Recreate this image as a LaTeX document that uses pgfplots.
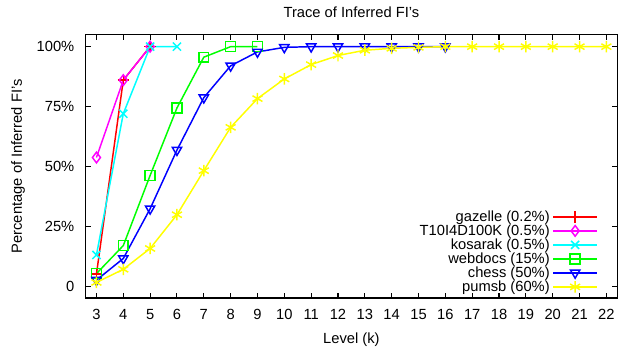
\documentclass[border=0pt]{standalone}
\usepackage{pgfplots}
\pgfplotsset{compat=1.18}
\usepackage{fontspec}
\setmainfont{Liberation Sans}
\definecolor{gpred}{RGB}{255,0,0}
\definecolor{gpmag}{RGB}{255,0,255}
\definecolor{gpcyan}{RGB}{0,255,255}
\definecolor{gpgreen}{RGB}{0,255,0}
\definecolor{gpblue}{RGB}{0,0,255}
\definecolor{gpyellow}{RGB}{255,255,0}
\begin{document}
\begin{tikzpicture}
\begin{axis}[
  scale only axis,
  width=397.5pt, height=197pt,
  xmin=2.6, xmax=22.4, ymin=-5, ymax=105,
  xtick={3,...,22},
  ytick={0,25,50,75,100},
  yticklabels={0,25\%,50\%,75\%,100\%},
  tick align=inside,
  major tick length=4pt,
  axis line style={line width=0.9pt},
  tick style={line width=0.8pt, black},
  /pgf/number format/assume math mode=true,
  tick label style={font=\fontsize{11}{13}\selectfont},
  xticklabel style={yshift=-5pt},
  yticklabel style={xshift=-5pt},
  label style={font=\fontsize{11}{13}\selectfont},
  ylabel style={yshift=2pt},
  xlabel style={yshift=-3pt},
  title style={font=\fontsize{11}{13}\selectfont, yshift=3pt},
  title={Trace of Inferred FI's},
  xlabel={Level (k)},
  ylabel={Percentage of Inferred FI's},
  legend plot pos=right,
  legend cell align=right,
  legend image code/.code={\draw[mark repeat=2,mark phase=2] plot coordinates {(0.12cm,0cm) (0.7cm,0cm) (1.28cm,0cm)};},
  legend style={draw=none, fill=none, at={(0.972,-0.003)}, anchor=south east,
    font=\fontsize{11}{13}\selectfont, row sep=-3pt},
  every axis plot/.append style={line width=1.1pt},
  mark options={solid},
]
\addplot[gpred, mark=+, mark size=4.3pt] coordinates {(3,5) (4,86) (5,100)};
\addlegendentry{gazelle (0.2\%)}
\addplot[gpmag, mark=diamond, mark size=4pt] coordinates {(3,53.7) (4,86) (5,100)};
\addlegendentry{T10I4D100K (0.5\%)}
\addplot[gpcyan, mark=x, mark size=4.3pt] coordinates {(3,13) (4,72) (5,100) (6,100)};
\addlegendentry{kosarak (0.5\%)}
\addplot[gpgreen, mark=square, mark size=3.7pt] coordinates {(3,5.2) (4,16.9) (5,46.2) (6,74.4) (7,95.6) (8,100) (9,100)};
\addlegendentry{webdocs (15\%)}
\addplot[gpblue, mark=triangle, mark size=4pt, mark options={rotate=180}] coordinates {(3,2.5) (4,11.5) (5,32.3) (6,56.8) (7,78.7) (8,92) (9,97.8) (10,99.7) (11,100) (12,100) (13,100) (14,100) (15,100) (16,100)};
\addlegendentry{chess (50\%)}
\addplot[gpyellow, mark=asterisk, mark size=4.3pt] coordinates {(3,1.5) (4,7) (5,15.7) (6,29.8) (7,48.2) (8,66.3) (9,78.3) (10,86.5) (11,92.5) (12,96.3) (13,98.5) (14,99.3) (15,99.7) (16,100) (17,100) (18,100) (19,100) (20,100) (21,100) (22,100)};
\addlegendentry{pumsb (60\%)}
\end{axis}
\path (current bounding box.west) ++(-5pt,0) coordinate (extl);
\path (extl);
\path (current bounding box.north) ++(0,2pt) coordinate (extt);
\path (extt);
\end{tikzpicture}
\end{document}
